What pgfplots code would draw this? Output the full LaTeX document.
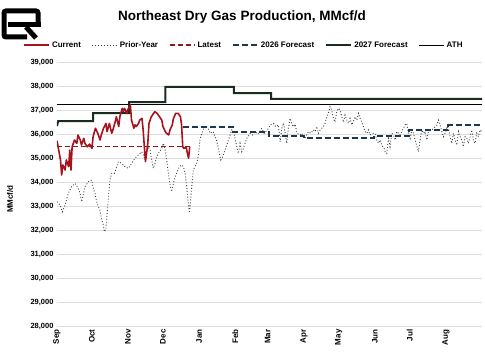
\documentclass[border=0pt]{standalone}
\usepackage{pgfplots}
\pgfplotsset{compat=1.18}
\usepackage{fontspec}
\setmainfont{Liberation Sans}
\definecolor{curred}{RGB}{165,20,30}
\definecolor{latred}{RGB}{140,25,25}
\definecolor{f26}{RGB}{30,55,75}
\definecolor{f27}{RGB}{25,45,30}
\definecolor{prior}{RGB}{60,60,60}
\definecolor{gridc}{RGB}{222,222,222}
\begin{document}
\begin{tikzpicture}[x=1pt,y=1pt]
\path[use as bounding box] (0,0) rectangle (485,354);
% logo
\draw[line width=5pt,rounded corners=2pt] (38,327) -- (38,343) -- (4,343) -- (4,317) -- (27,317);
\draw[line width=4.5pt] (8,329.5) -- (40.5,329.5);
\draw[line width=5pt] (26,327) -- (36,316);
\node[font=\bfseries\fontsize{13.5}{15}\selectfont] at (242,337) {Northeast Dry Gas Production, MMcf/d};
\node[rotate=90,font=\bfseries\fontsize{8}{9}\selectfont] at (10,155) {MMcf/d};
\begin{axis}[
  at={(57pt,28pt)}, anchor=south west,
  scale only axis, width=425pt, height=264pt,
  xmin=0, xmax=365, ymin=28000, ymax=39000,
  ytick={28000,29000,...,39000},
  xtick={0,30,61,91,122,153,181,212,242,273,303,334},
  xticklabels={Sep,Oct,Nov,Dec,Jan,Feb,Mar,Apr,May,Jun,Jul,Aug},
  xticklabel style={rotate=90,anchor=east,font=\bfseries\fontsize{8}{9}\selectfont},
  yticklabel style={font=\bfseries\fontsize{7.5}{9}\selectfont},
  /pgf/number format/assume math mode=true,
  /pgf/number format/1000 sep={,},
  scaled y ticks=false,
  ymajorgrids, grid style={gridc,line width=0.9pt},
  axis line style={draw=none},
  major tick length=0pt,
  legend columns=6,
  legend style={at={(0.44,1)},anchor=south,yshift=11pt,draw=none,fill=none,
    font=\bfseries\fontsize{8}{9}\selectfont,
    /tikz/every even column/.append style={column sep=9pt},
    inner sep=0pt},
  legend image code/.code={\draw[#1] (0pt,0pt) -- (25pt,0pt);},
]
\addlegendimage{curred,line width=1.6pt}
\addlegendentry{Current}
\addlegendimage{prior,dotted,line width=0.9pt}
\addlegendentry{Prior-Year}
\addlegendimage{latred,line width=1.5pt,dash pattern=on 5pt off 3pt}
\addlegendentry{Latest}
\addlegendimage{f26,line width=1.8pt,dash pattern=on 6pt off 3pt}
\addlegendentry{2026 Forecast}
\addlegendimage{f27,line width=2pt}
\addlegendentry{2027 Forecast}
\addlegendimage{black,line width=1pt}
\addlegendentry{ATH}
% Prior year
\addplot[forget plot,prior,dotted,line width=0.9pt] coordinates {
(0,33180)(2.6,33040)(4.6,32760)(6.9,33040)(9.7,33530)(12.6,33810)(15.5,33940)(18.3,33740)(19.8,33530)(21.2,33180)
(24.1,33810)(26.9,34010)(29.8,34080)(31.2,33740)(32.6,33530)(34.1,33180)(35.5,32970)(36.9,32830)(38.4,32420)(39.8,32210)
(40.6,31930)(41.8,32000)(42.7,32420)(43.5,32970)(44.7,33670)(45.5,34080)(47,34360)(49.3,34360)(51.3,34640)(52.7,34850)
(55.6,34780)(58.4,34640)(61.3,34570)(64.2,34780)(67,34990)(68.4,35060)(71.3,35190)(72.7,35260)(74,35150)(75.6,34920)
(77,35260)(78.4,35470)(80,35330)(81.3,34920)(82.7,34570)(84.2,34780)(85.6,35060)(87.9,35260)(89.9,35400)(91.3,35610)
(92.7,35400)(94.2,34920)(95.6,34360)(97.1,33880)(98.5,33600)(100,33950)(101.4,34220)(103,34400)(105.1,34640)(107.1,34710)
(108.6,34640)(110,34360)(111.4,33810)(112.8,33110)(113.7,32710)(114.8,33250)(116,33940)(117.1,34500)(118.5,34640)(120,34780)
(121.4,35100)(122.9,35800)(124.3,36000)(125.7,36200)(128,36350)(130,36200)(131.4,36030)(134,36100)(137,35750)(138.6,35400)
(140.6,34920)(142.3,35050)(144.3,35330)(147.2,35750)(150.1,36170)(151.5,36100)(153,35800)(154.4,35470)(155.8,35190)(157.2,35610)
(158.6,35260)(160,35400)(163,35820)(165.9,36030)(168,35960)(170.2,36100)(172,36000)(174.5,36100)(175.9,36240)(178,36030)
(181.7,36240)(183.2,36380)(186,36440)(188,36300)(190,36380)(191,36000)(191.6,35680)(193.1,36240)(194.5,36450)(196,36030)
(197.3,35610)(198.7,36240)(200.2,36650)(201.6,36440)(203,36300)(204.4,36400)(205.9,36100)(207,36000)(208.8,35960)(210.2,36030)
(211.6,35890)(213,35820)(214.5,35960)(215.9,36100)(218,36030)(220.2,36170)(221.7,36100)(223.1,36310)(224.5,36030)(226,36170)
(227.4,36240)(228.8,36310)(230.3,36450)(231.7,36720)(233.1,36860)(234.5,37140)(236,37000)(237.4,36650)(238.8,36500)(240.3,36930)
(241.7,37070)(243.1,37000)(244.6,36720)(246,36500)(247.4,36790)(248.9,36580)(250.3,36440)(251.7,36650)(253.2,36380)(254.6,36520)
(256,36720)(257.5,36580)(258.9,36860)(260.3,36650)(261.7,36510)(263.2,36300)(264.6,36100)(266,36030)(267.5,36170)(268.9,35960)
(271.7,36030)(273.2,36030)(274.6,35750)(276,35610)(277.5,35750)(278.9,35540)(280.9,35400)(281.8,35260)(283.2,35190)(284.6,35820)
(286,35470)(287.5,36030)(289,35960)(290.4,35750)(291.8,36100)(293.2,36030)(294.7,35960)(296.1,36100)(297.5,36240)(299,36380)
(300.4,36440)(301.8,36030)(303.3,35820)(304.7,36170)(306.1,36030)(307.6,35750)(310.4,35260)(311.8,35750)(313.3,36170)(314.7,36030)
(316.1,36100)(317.6,35750)(319,36100)(321.9,36170)(324.7,36310)(326.2,36380)(327.6,36580)(329,36380)(330.5,36100)(331.9,35890)
(333.3,36030)(334.8,36310)(336.2,36240)(337.6,35890)(339,35610)(340.5,36030)(341.9,35750)(343.3,35540)(344.8,36100)(346.2,35890)
(347.6,35750)(349,35470)(350.5,35890)(352,35820)(353.3,35610)(354.8,35890)(356.2,36170)(357.6,35750)(359,35610)(360.5,36030)
(361.9,35890)(363.4,36170)(365,36100)
};
% ATH
\addplot[forget plot,black,line width=1pt] coordinates {(0,37210)(365,37210)};
% 2027 forecast
\addplot[forget plot,f27,line width=2pt] coordinates {
(0,36330)(1,36540)(31,36540)(31,36870)(62,36870)(62,37330)(93,37330)(93,37960)(152,37960)(152,37700)(184,37700)(184,37460)(365,37460)};
% 2026 forecast
\addplot[forget plot,f26,line width=1.8pt,dash pattern=on 6pt off 3pt] coordinates {
(108,36290)(151,36290)(151,36080)(182,36080)(182,35920)(212,35920)(212,35830)(272,35830)(272,35920)(302,35920)(302,36170)(336,36170)(336,36380)(365,36380)};
% Latest
\addplot[forget plot,latred,line width=1.5pt,dash pattern=on 5pt off 3pt] coordinates {(0,35470)(114,35470)};
% Current
\addplot[forget plot,curred,line width=1.6pt,line join=round] coordinates {
(0,35720)(3,34920)(4,34290)(5,34710)(7,34500)(8,34920)(10,34640)(11,35330)(12,34500)(13,35470)
(15,35750)(17,35610)(18,35960)(20,35750)(21,35540)(23,35820)(24,35610)(26,35470)(28,35580)(30,35400)
(31,35890)(33,36240)(35,36030)(37,35750)(38,35960)(40,36240)(42,36440)(43,36100)(45,36440)(47,36030)
(48,36170)(50,36510)(51,36720)(53,36310)(54,36720)(56,37070)(57,36930)(58,37070)(60,36860)(61,37030)
(63,37210)(64,36580)(66,36240)(67,36380)(68,36310)(70,36440)(71,36580)(73,36650)(74,36170)(75,35470)
(76,34850)(78,35610)(79,36440)(81,36720)(84,36930)(86,36860)(88,36720)(90,36580)(91,36310)(93,36100)
(94,36030)(96,35960)(97,36170)(99,36380)(100,36650)(102,36860)(104,36860)(106,36720)(107,36380)(108,35470)
(109,35400)(111,35440)(112,35190)(113,34990)(114,35470)
};
\end{axis}
\end{tikzpicture}
\end{document}
